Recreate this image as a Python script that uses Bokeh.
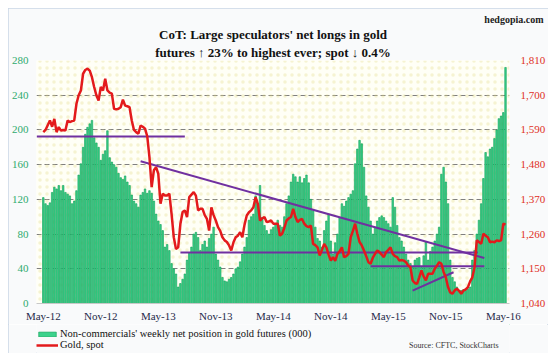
from bokeh.plotting import figure
from bokeh.layouts import column
from bokeh.models import (Range1d, LinearAxis, FixedTicker, NumeralTickFormatter,
                          Legend, LegendItem, BoxAnnotation, ColumnDataSource, Title, Label)
from bokeh.embed import file_html
from bokeh.resources import INLINE

# ---- data (weekly, May-2012 .. May-2016) ----
NET_LONGS = [122, 115, 113, 116, 128, 134, 132, 136, 130, 136,
             128, 126, 124, 115, 118, 130, 148, 161, 180, 195,
             203, 207, 211, 191, 185, 180, 165, 172, 176, 199,
             168, 163, 160, 157, 150, 145, 143, 147, 140, 136,
             125, 118, 115, 111, 125, 128, 132, 127, 130, 127,
             118, 103, 95, 91, 84, 65, 68, 61, 46, 40,
             34, 19, 23, 28, 34, 50, 58, 65, 80, 82,
             76, 61, 68, 72, 65, 75, 80, 88, 57, 50,
             42, 30, 26, 25, 28, 30, 34, 40, 42, 48,
             57, 65, 76, 96, 100, 103, 124, 115, 136, 99,
             90, 84, 80, 85, 88, 92, 96, 90, 88, 100,
             115, 124, 140, 149, 146, 140, 146, 139, 144, 148,
             139, 120, 107, 88, 75, 72, 65, 84, 95, 103,
             72, 57, 70, 80, 99, 115, 112, 118, 122, 126,
             130, 161, 178, 188, 184, 157, 124, 111, 95, 80,
             88, 95, 99, 101, 99, 95, 92, 88, 122, 111,
             90, 76, 72, 65, 57, 50, 46, 42, 50, 52,
             53, 42, 55, 71, 50, 60, 65, 72, 80, 88,
             149, 157, 140, 115, 50, 30, 25, 19, 15, 15,
             16, 15, 17, 19, 50, 61, 80, 96, 115, 144,
             174, 169, 178, 180, 190, 200, 213, 216, 220, 272]

GOLD_SPOT = [1583, 1590, 1605, 1620, 1600, 1625, 1583, 1599, 1588, 1590,
             1588, 1620, 1615, 1618, 1620, 1673, 1700, 1715, 1768, 1780,
             1784, 1778, 1757, 1726, 1700, 1683, 1726, 1715, 1752, 1715,
             1708, 1705, 1657, 1655, 1657, 1662, 1686, 1667, 1665, 1662,
             1620, 1590, 1583, 1578, 1604, 1600, 1594, 1570, 1504, 1409,
             1462, 1472, 1451, 1356, 1388, 1382, 1382, 1388, 1324, 1250,
             1213, 1218, 1293, 1330, 1335, 1314, 1377, 1385, 1393, 1382,
             1335, 1340, 1340, 1320, 1308, 1271, 1345, 1320, 1303, 1282,
             1270, 1250, 1240, 1235, 1224, 1208, 1234, 1250, 1255, 1266,
             1250, 1290, 1319, 1329, 1335, 1345, 1377, 1356, 1303, 1310,
             1314, 1298, 1300, 1303, 1293, 1293, 1293, 1255, 1261, 1280,
             1303, 1310, 1314, 1340, 1314, 1298, 1305, 1308, 1293, 1285,
             1282, 1287, 1229, 1225, 1218, 1192, 1210, 1229, 1218, 1195,
             1176, 1187, 1175, 1197, 1205, 1218, 1187, 1190, 1197, 1250,
             1270, 1293, 1261, 1235, 1224, 1208, 1190, 1171, 1166, 1185,
             1197, 1208, 1203, 1195, 1187, 1203, 1210, 1218, 1197, 1190,
             1187, 1176, 1178, 1176, 1171, 1160, 1155, 1113, 1105, 1102,
             1123, 1145, 1125, 1113, 1134, 1134, 1134, 1150, 1160, 1171,
             1166, 1140, 1123, 1092, 1075, 1071, 1081, 1087, 1080, 1071,
             1081, 1085, 1092, 1110, 1123, 1155, 1240, 1235, 1229, 1261,
             1255, 1250, 1234, 1236, 1234, 1240, 1238, 1240, 1293, 1290]

WEEK = list(range(len(NET_LONGS)))

TICK_WEEKS = [0, 26, 52, 78, 104, 130, 156, 182, 208]
TICK_LABELS = ["May-12", "Nov-12", "May-13", "Nov-13", "May-14",
               "Nov-14", "May-15", "Nov-15", "May-16"]
LEFT_TICKS = [0, 40, 80, 120, 160, 200, 240, 280]
RIGHT_TICKS = [1040, 1150, 1260, 1370, 1480, 1590, 1700, 1810]

# trend lines drawn on the chart (week index, spot price)
TREND_X0 = [-3, 44, 62, 148, 167]
TREND_X1 = [64, 199.4, 196.5, 199.4, 185.5]
TREND_Y0 = [1569, 1491, 1202, 1158, 1081]
TREND_Y1 = [1569, 1184, 1202, 1158, 1139]

TITLE_1 = "CoT: Large speculators' net longs in gold"
TITLE_2 = "futures \u2191 23% to highest ever; spot \u2193 0.4%"
LEGEND_BARS = "Non-commercials' weekly net position in gold futures (000)"
LEGEND_LINE = "Gold, spot"
SOURCE = "Source: CFTC, StockCharts"

SERIF = "Liberation Serif"
GREEN_TXT = "#2EAA6E"
RED_TXT = "#E0301E"
PURPLE = "#7030A0"
BAR_FILL = "#3CD28C"
BAR_LINE = "#0E9F55"
SPOT_RED = "#E31A1C"
BORDER_BG = "#F9FAFB"

p = figure(width=540, height=316, output_backend="svg", toolbar_location=None,
           x_range=Range1d(-3.07, 210.8), y_range=Range1d(0, 280),
           min_border_left=20, min_border_right=32, min_border_top=52,
           min_border_bottom=21,
           background_fill_color="#FFFFF6", border_fill_color=BORDER_BG,
           outline_line_color=None)
p.extra_y_ranges = {"spot": Range1d(1040, 1810)}

bg = BoxAnnotation(fill_alpha=0, line_alpha=0, hatch_pattern="dot",
                   hatch_color="#E6DC8C", hatch_alpha=0.35, hatch_scale=7,
                   level="underlay")
p.add_layout(bg)

src = ColumnDataSource(dict(week=WEEK, net=NET_LONGS, spot=GOLD_SPOT))

p.vbar(x="week", top="net", bottom=0, width=0.7, source=src,
       fill_color=BAR_FILL, line_color=BAR_LINE, line_width=0.6)

p.segment(x0=TREND_X0, y0=TREND_Y0, x1=TREND_X1, y1=TREND_Y1,
          line_color=PURPLE, line_width=2, y_range_name="spot")

p.line(x="week", y="spot", source=src, line_color=SPOT_RED,
       line_width=2.5, y_range_name="spot")

# axes
xa = p.xaxis[0]
xa.ticker = FixedTicker(ticks=TICK_WEEKS)
xa.major_label_overrides = {w: l for w, l in zip(TICK_WEEKS, TICK_LABELS)}
xa.major_tick_line_color = None
xa.minor_tick_line_color = None
xa.axis_line_color = "#C8C8C8"
xa.major_label_text_font = SERIF
xa.major_label_text_font_size = "11px"
xa.major_label_text_color = "#1F2A4A"
xa.major_label_standoff = 0

ya = p.yaxis[0]
ya.ticker = FixedTicker(ticks=LEFT_TICKS)
ya.major_tick_line_color = None
ya.minor_tick_line_color = None
ya.axis_line_color = None
ya.major_label_text_font = SERIF
ya.major_label_text_font_size = "11px"
ya.major_label_text_color = GREEN_TXT
ya.major_label_standoff = 2

ra = LinearAxis(y_range_name="spot", ticker=FixedTicker(ticks=RIGHT_TICKS),
                formatter=NumeralTickFormatter(format="0,0"))
ra.major_tick_line_color = None
ra.minor_tick_line_color = None
ra.axis_line_color = None
ra.major_label_text_font = SERIF
ra.major_label_text_font_size = "11px"
ra.major_label_text_color = RED_TXT
ra.major_label_standoff = 5
p.add_layout(ra, "right")

p.xgrid.grid_line_color = None
p.ygrid.ticker = FixedTicker(ticks=LEFT_TICKS[1:])
p.ygrid.grid_line_color = "#7F7F7F"
p.ygrid.grid_line_dash = "5 3"
p.ygrid.grid_line_width = 1

# titles (stacked above the frame; last added is outermost)
p.add_layout(Title(text=TITLE_2, align="center", text_font=SERIF,
                   text_font_size="13px", text_font_style="bold",
                   text_color="#111111", standoff=2), "above")
p.add_layout(Title(text=TITLE_1, align="center", text_font=SERIF,
                   text_font_size="13px", text_font_style="bold",
                   text_color="#111111", standoff=0), "above")
p.add_layout(Title(text="hedgopia.com", align="right", offset=-34, text_font=SERIF,
                   text_font_size="10px", text_font_style="bold",
                   text_color="#222222", standoff=0), "above")

# ---- legend strip under the chart (its frame is aligned with the chart's) ----
q = figure(width=540, height=29, output_backend="svg", toolbar_location=None,
           x_range=Range1d(0, 1), y_range=Range1d(0, 1),
           x_axis_location=None, y_axis_location=None,
           min_border_left=0, min_border_right=0, min_border_top=0,
           min_border_bottom=0, background_fill_color=BORDER_BG,
           border_fill_color=BORDER_BG, outline_line_color=None)
q.grid.visible = False
# swatch renderers: one mark each, placed outside the strip's visible range
r_bar = q.vbar(x=[5], top=[6], bottom=[5], width=0.5, fill_color=BAR_FILL,
               line_color=BAR_LINE, line_width=0.6)
r_line = q.line(x=[5, 6], y=[5, 5], line_color=SPOT_RED, line_width=2.5)

legend = Legend(items=[LegendItem(label=LEGEND_BARS, renderers=[r_bar]),
                       LegendItem(label=LEGEND_LINE, renderers=[r_line])],
                location=(0, 3), orientation="vertical")
legend.background_fill_alpha = 0
legend.border_line_alpha = 0
legend.padding = 0
legend.margin = 0
legend.spacing = 0
legend.label_standoff = 2
legend.glyph_width = 22
legend.glyph_height = 6
legend.label_height = 10
legend.label_text_font = SERIF
legend.label_text_font_size = "10.5px"
legend.label_text_line_height = 1.0
legend.label_text_color = "#111111"
q.add_layout(legend)

q.add_layout(Label(x=462, y=8, x_units="screen", y_units="screen", text=SOURCE,
                   text_align="right", text_baseline="middle", text_font=SERIF,
                   text_font_size="8px", text_color="#333333"))

page = column(p, q, spacing=0)
page.styles = {"margin-left": "8px", "margin-top": "8px",
               "outline": "1px solid #C9D6E6", "outline-offset": "-1px"}

open("out.html", "w").write(file_html(page, INLINE))
